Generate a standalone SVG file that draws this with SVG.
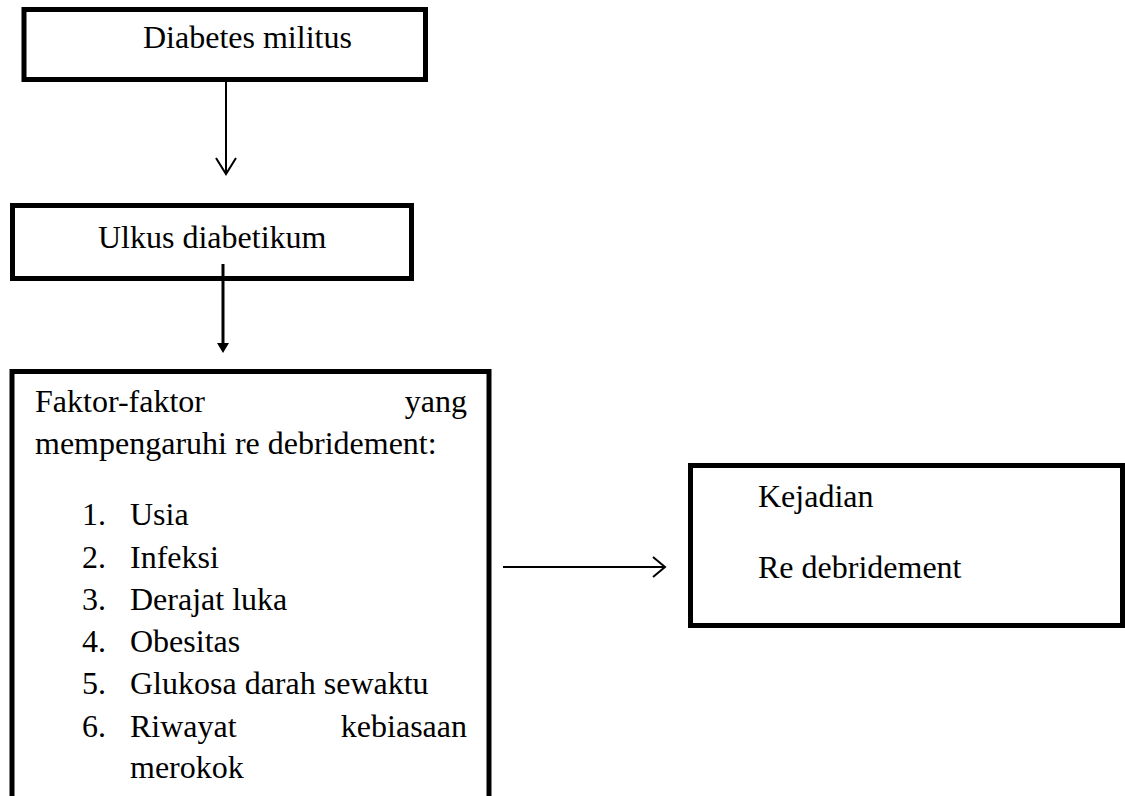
<svg xmlns="http://www.w3.org/2000/svg" width="1125" height="796" viewBox="0 0 1125 796">
<style>
.box{fill:#fff;stroke:#000;stroke-width:5}
.t{font-family:"Liberation Serif","Times New Roman",serif;font-size:32px;fill:#000}
.c{stroke:#000;fill:none}
</style>
<defs>
<marker id="filled" markerWidth="12" markerHeight="12" refX="6" refY="10" orient="auto" markerUnits="userSpaceOnUse" viewBox="0 0 12 12">
<path d="M0,0 L6,10 L12,0 Z" fill="#000" transform="rotate(-90 6 6)"/>
</marker>
</defs>
<rect width="1125" height="796" fill="#fff"/>
<g id="node-diabetes">
<rect class="box" x="24" y="9.5" width="401.5" height="70"/>
<text class="t" x="143" y="48">Diabetes militus</text>
</g>
<g id="node-ulkus">
<rect class="box" x="12.5" y="205.5" width="399" height="73"/>
<text class="t" x="98" y="248">Ulkus diabetikum</text>
</g>
<g id="node-faktor">
<rect class="box" x="12" y="371.5" width="477" height="460"/>
<text class="t" x="35" y="412">Faktor-faktor</text>
<text class="t" x="467" y="412" text-anchor="end">yang</text>
<text class="t" x="35" y="454">mempengaruhi re debridement:</text>
<text class="t" x="82" y="525">1.</text><text class="t" x="130" y="525">Usia</text>
<text class="t" x="82" y="568">2.</text><text class="t" x="130" y="568">Infeksi</text>
<text class="t" x="82" y="610">3.</text><text class="t" x="130" y="610">Derajat luka</text>
<text class="t" x="82" y="652">4.</text><text class="t" x="130" y="652">Obesitas</text>
<text class="t" x="82" y="694">5.</text><text class="t" x="130" y="694">Glukosa darah sewaktu</text>
<text class="t" x="82" y="737">6.</text><text class="t" x="130" y="737">Riwayat</text>
<text class="t" x="467" y="737" text-anchor="end">kebiasaan</text>
<text class="t" x="130" y="778">merokok</text>
</g>
<g id="node-kejadian">
<rect class="box" x="690.5" y="465.5" width="432" height="160"/>
<text class="t" x="758" y="507">Kejadian</text>
<text class="t" x="758" y="578">Re debridement</text>
</g>
<g id="connectors">
<line class="c" x1="226" y1="82" x2="226" y2="174" stroke-width="2"/>
<polyline class="c" points="216,158 226,174 236,158" stroke-width="2"/>
<line class="c" x1="223" y1="264" x2="223" y2="346" stroke-width="3"/>
<path d="M217,343 L229,343 L223,353 Z" fill="#000"/>
<line class="c" x1="503" y1="567" x2="664" y2="567" stroke-width="2"/>
<polyline class="c" points="653,557 665,567 653,577" stroke-width="2"/>
</g>
</svg>
